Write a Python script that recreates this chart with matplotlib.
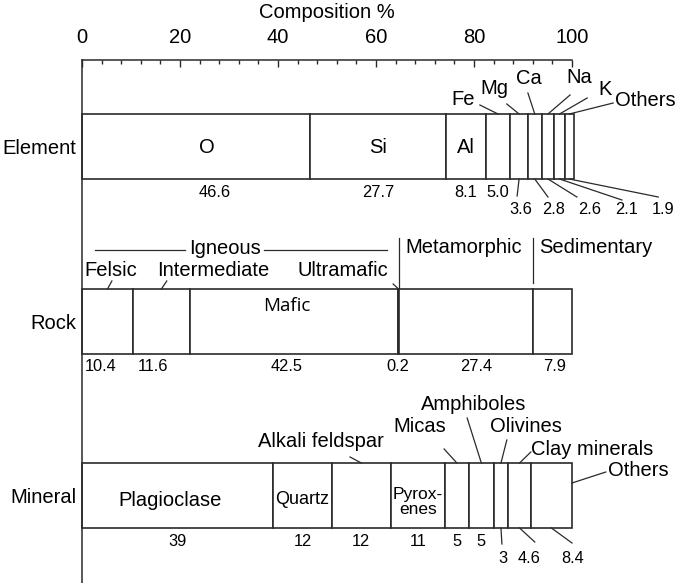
import numpy as np
import matplotlib.pyplot as plt
from matplotlib.ticker import MultipleLocator

plt.rcParams['font.family'] = 'Liberation Sans'

# composition in percent
element_names = ['O', 'Si', 'Al', 'Fe', 'Mg', 'Ca', 'Na', 'K', 'Others']
element_values = [46.6, 27.7, 8.1, 5.0, 3.6, 2.8, 2.6, 2.1, 1.9]
rock_names = ['Felsic', 'Intermediate', 'Mafic', 'Ultramafic', 'Metamorphic', 'Sedimentary']
rock_values = [10.4, 11.6, 42.5, 0.2, 27.4, 7.9]
mineral_names = ['Plagioclase', 'Quartz', 'Alkali feldspar', 'Pyroxenes', 'Micas',
                 'Amphiboles', 'Olivines', 'Clay minerals', 'Others']
mineral_values = [39, 12, 12, 11, 5, 5, 3, 4.6, 8.4]
row_names = ['Element', 'Rock', 'Mineral']
x_ticks = [0, 20, 40, 60, 80, 100]

# layout (y is in pixel rows of the figure, x in percent)
row_y = [146.5, 321.5, 495.5]
bar_h = 65
lc = '#2a2a2a'
big, small = 14.5, 11.8


def seg_info(values):
    v = np.array(values, dtype=float)
    left = np.concatenate(([0], np.cumsum(v)[:-1]))
    return left, left + v / 2


fig = plt.figure(figsize=(6.85, 5.83), dpi=100)
ax = fig.add_axes([82 / 685, 0, 490 / 685, 523 / 583])
ax.set_xlim(0, 100)
ax.set_ylim(583, 60)
for s in ['right', 'bottom']:
    ax.spines[s].set_visible(False)
for s in ['top', 'left']:
    ax.spines[s].set_linewidth(1.1)
    ax.spines[s].set_color(lc)
ax.xaxis.tick_top()
ax.set_xticks(x_ticks)
ax.xaxis.set_minor_locator(MultipleLocator(4))
ax.tick_params(axis='x', which='major', direction='in', length=5, width=1.0, color=lc,
               labelsize=big, pad=9.6)
ax.tick_params(axis='x', which='minor', direction='in', length=2.9, width=1.0, color=lc)
ax.set_yticks([])
ax.text(50, 12, 'Composition %', ha='center', va='center', fontsize=big)


def leader(x0, y0, x1, y1):
    ax.plot([x0, x1], [y0, y1], color=lc, lw=0.9, clip_on=False)


# bars
for y, vals in zip(row_y, [element_values, rock_values, mineral_values]):
    left, _ = seg_info(vals)
    ax.barh(y, vals, left=left, height=bar_h, color='white', edgecolor=lc, linewidth=1.2,
            clip_on=False)
for y, name in zip(row_y, row_names):
    ax.text(-1.2, y + 2, name, ha='right', va='center', fontsize=big)

# ---- element row
e_left, e_mid = seg_info(element_values)
e_top, e_bot = row_y[0] - bar_h / 2, row_y[0] + bar_h / 2
ax.text(25.5, 147, element_names[0], ha='center', va='center', fontsize=big)
ax.text(e_mid[1], 147, element_names[1], ha='center', va='center', fontsize=big)
ax.text(e_mid[2], 147, element_names[2], ha='center', va='center', fontsize=big)
top_lab = [(77.8, 99), (84.1, 88), (91.2, 78), (101.4, 77), (106.7, 89), (115.0, 100)]
top_lead = [(81.2, 105), (86.7, 104), (91.0, 93), (99.6, 95), (103.1, 98), (108.4, 103)]
for i in range(3, 9):
    (tx, ty), (lx, ly) = top_lab[i - 3], top_lead[i - 3]
    ax.text(tx, ty, element_names[i], ha='center', va='center', fontsize=big)
    leader(lx, ly, e_mid[i], e_top)
val_x = [27.0, e_mid[1], e_mid[2], e_mid[3], 89.6, 96.3, 103.5, 111.2, 118.6]
val_lead = [None, None, None, None, (88.8, 196), (95.1, 197), (101.0, 197), (110.2, 200),
            (117.6, 197)]
for i, v in enumerate(element_values):
    ty = 192 if val_lead[i] is None else 209
    ax.text(val_x[i], ty, f'{v:.1f}', ha='center', va='center', fontsize=small)
    if val_lead[i] is not None:
        leader(e_mid[i], e_bot, *val_lead[i])

# ---- rock row
r_left, r_mid = seg_info(rock_values)
r_top, r_bot = row_y[1] - bar_h / 2, row_y[1] + bar_h / 2
leader(2.65, 250, 21.0, 250)
leader(37.1, 250, 62.2, 250)
ax.text(29.2, 248, 'Igneous', ha='center', va='center', fontsize=big)
leader(r_left[4], 238, r_left[4], r_top)
leader(r_left[5], 238, r_left[5], 283)
ax.text(r_left[4] + 1.2, 247, rock_names[4], ha='left', va='center', fontsize=big)
ax.text(r_left[5] + 1.2, 247, rock_names[5], ha='left', va='center', fontsize=big)
rock_lab = {0: (5.9, 270, (6.1, 281)), 1: (26.8, 270, (17.3, 281)), 3: (53.3, 270, (63.5, 284))}
for i, (tx, ty, (lx, ly)) in rock_lab.items():
    ax.text(tx, ty, rock_names[i], ha='center', va='center', fontsize=big)
    leader(lx, ly, r_mid[i], r_top)
ax.text(41.8, 306, rock_names[2], ha='center', va='center', fontsize=13.5, family='Open Sans')
rock_val_x = [3.7, 14.5, 41.8, 64.5, 80.4, 96.5]
for x, v in zip(rock_val_x, rock_values):
    ax.text(x, 366, f'{v:.1f}', ha='center', va='center', fontsize=small)

# ---- mineral row
m_left, m_mid = seg_info(mineral_values)
m_top, m_bot = row_y[2] - bar_h / 2, row_y[2] + bar_h / 2
ax.text(18.0, 500, mineral_names[0], ha='center', va='center', fontsize=big)
ax.text(m_mid[1], 499, mineral_names[1], ha='center', va='center', fontsize=13)
ax.text(m_mid[3], 502, 'Pyrox-\nenes', ha='center', va='center', fontsize=12.5,
        linespacing=1.05)
min_lab = {2: (48.8, 441, 'center', (54.7, 457)), 4: (69.0, 426, 'center', (73.9, 449)),
           5: (79.9, 404, 'center', (78.6, 418)), 6: (90.6, 426, 'center', (86.7, 440)),
           7: (91.6, 449, 'left', (91.6, 452))}
for i, (tx, ty, ha, (lx, ly)) in min_lab.items():
    ax.text(tx, ty, mineral_names[i], ha=ha, va='center', fontsize=big)
    leader(lx, ly, m_mid[i], m_top)
ax.text(107.3, 470, mineral_names[8], ha='left', va='center', fontsize=big)
leader(106.9, 472, m_left[8] + mineral_values[8], 483)
min_lead = {6: (85.7, 544), 7: (92.4, 542), 8: (100.0, 543)}
min_low_x = {6: 85.9, 7: 91.2, 8: 100.2}
for i, v in enumerate(mineral_values):
    txt = f'{v:g}'
    if i in min_lead:
        ax.text(min_low_x[i], 558, txt, ha='center', va='center', fontsize=small)
        leader(m_mid[i], m_bot, *min_lead[i])
    else:
        ax.text(m_mid[i], 541, txt, ha='center', va='center', fontsize=small)

fig.savefig('out.png', dpi=100)
